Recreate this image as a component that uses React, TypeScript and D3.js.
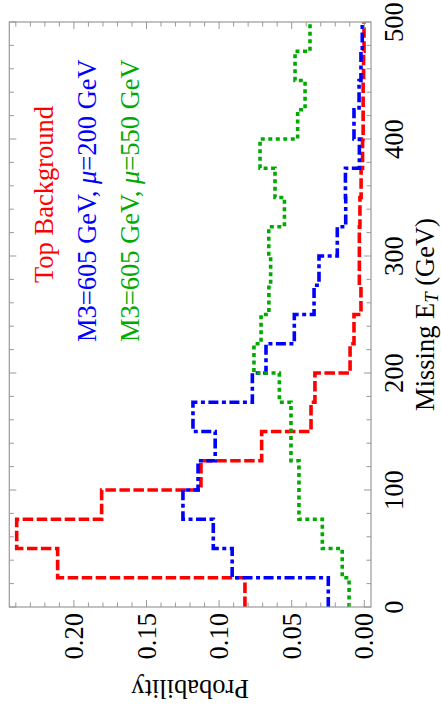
import React from 'react';
import * as d3 from 'd3';

// Bin edges of Missing E_T (GeV)
const binStarts = [0, 25, 50, 75, 100, 125, 150, 175, 200, 225, 250, 275, 300, 325, 350, 375, 400, 425, 450, 475];
const binEnd = 500;

const topBackground = [0.0822, 0.2112, 0.2394, 0.1809, 0.1125, 0.0707, 0.0367, 0.034, 0.0098, 0.0071, 0.0023, 0.0034, 0.0034, 0.003, 0.0022, 0.0012, 0.0008, 0.0008, 0.0005, 0.0002];
const mu200 = [0.0248, 0.091, 0.104, 0.1249, 0.1145, 0.1027, 0.118, 0.0771, 0.0677, 0.0482, 0.0346, 0.0312, 0.0186, 0.0128, 0.013, 0.0034, 0.0071, 0.0036, 0.0023, 0.0014];
const mu550 = [0.0105, 0.0152, 0.0289, 0.045, 0.045, 0.0505, 0.0505, 0.0585, 0.076, 0.0711, 0.0657, 0.0645, 0.0658, 0.055, 0.0615, 0.0718, 0.0459, 0.0408, 0.0477, 0.0374];

const xMajorTicks = [0, 100, 200, 300, 400, 500];
const yMajorTicks = [0, 0.05, 0.1, 0.15, 0.2];
const yTickLabels = ['0.00', '0.05', '0.10', '0.15', '0.20'];

const FONT = "'Liberation Serif', 'Times New Roman', serif";
const FS = 26.5;

export default function App() {
  const W = 712;
  const x = d3.scaleLinear().domain([0, 500]).range([105, 690]);
  const y = d3.scaleLinear().domain([0, 0.2]).range([364.3, 73.9]);
  const [y0, y1] = [371, 9.3]; // frame bottom/top
  const [x0, x1] = x.range();

  const xMinor = d3.range(0, 501, 20);
  const yMinor = d3.range(0, 0.2451, 0.01);

  const line = d3
    .line<[number, number]>()
    .x((d) => x(d[0]))
    .y((d) => y(d[1]))
    .curve(d3.curveStepAfter);

  const pts = (vals: number[]) => {
    const p: [number, number][] = binStarts.map((b, i) => [b, vals[i]]);
    p.push([binEnd, vals[vals.length - 1]]);
    return p;
  };

  const series = [
    { vals: topBackground, color: '#ff0000', dash: '10.5 3.5' },
    { vals: mu200, color: '#0000ff', dash: '10 3.5 4 3.5' },
    { vals: mu550, color: '#00aa00', dash: '4 3.5' },
  ];

  const frame = '#999999';
  const major = 7;
  const minor = 4.5;

  return (
    <svg
      width={441}
      height={712}
      style={{ position: 'absolute', left: 0, top: 0, background: '#fff' }}
    >
      <g transform={`translate(0,${W}) rotate(-90)`}>
        {/* series */}
        {series.map((s, i) => (
          <path
            key={i}
            d={line(pts(s.vals)) || ''}
            fill="none"
            stroke={s.color}
            strokeWidth={3.6}
            strokeDasharray={s.dash}
            strokeLinecap="butt"
          />
        ))}

        {/* frame */}
        <rect x={x0} y={y1} width={x1 - x0} height={y0 - y1} fill="none" stroke={frame} strokeWidth={1.2} />

        {/* x ticks bottom & top */}
        {xMinor.map((t) => {
          const len = t % 100 === 0 ? major : minor;
          return (
            <g key={'xt' + t} stroke={frame} strokeWidth={1}>
              <line x1={x(t)} x2={x(t)} y1={y0} y2={y0 - len} />
              <line x1={x(t)} x2={x(t)} y1={y1} y2={y1 + len} />
            </g>
          );
        })}
        {/* y ticks left & right */}
        {yMinor.map((t, i) => {
          const len = i % 5 === 0 ? major : minor;
          return (
            <g key={'yt' + i} stroke={frame} strokeWidth={1}>
              <line x1={x0} x2={x0 + len} y1={y(t)} y2={y(t)} />
              <line x1={x1} x2={x1 - len} y1={y(t)} y2={y(t)} />
            </g>
          );
        })}

        {/* x tick labels */}
        {xMajorTicks.map((t) => (
          <text key={'xl' + t} x={x(t)} y={403} textAnchor="middle" fontFamily={FONT} fontSize={FS} fill="#000">
            {t}
          </text>
        ))}
        {/* y tick labels */}
        {yMajorTicks.map((t, i) => (
          <text key={'yl' + i} x={99} y={y(t)} dy="0.34em" textAnchor="end" fontFamily={FONT} fontSize={FS} fill="#000">
            {yTickLabels[i]}
          </text>
        ))}

        {/* axis titles */}
        <text x={(x0 + x1) / 2} y={434} textAnchor="middle" fontFamily={FONT} fontSize={FS} fill="#000">
          Missing E
          <tspan fontStyle="italic" fontSize={FS * 0.7} dy={4}>T</tspan>
          <tspan dy={-4}> (GeV)</tspan>
        </text>
        <text
          transform={`translate(32,${(y0 + y1) / 2}) rotate(-90)`}
          textAnchor="middle"
          fontFamily={FONT}
          fontSize={FS}
          fill="#000"
        >
          Probability
        </text>

        {/* legend */}
        <text x={429} y={53} fontFamily={FONT} fontSize={FS} fill="#ff0000">
          Top Background
        </text>
        <text x={370} y={96} fontFamily={FONT} fontSize={FS} fill="#0000ff">
          M3=605 GeV, <tspan fontStyle="italic">μ</tspan>=200 GeV
        </text>
        <text x={370} y={139} fontFamily={FONT} fontSize={FS} fill="#00aa00">
          M3=605 GeV, <tspan fontStyle="italic">μ</tspan>=550 GeV
        </text>
      </g>
    </svg>
  );
}
